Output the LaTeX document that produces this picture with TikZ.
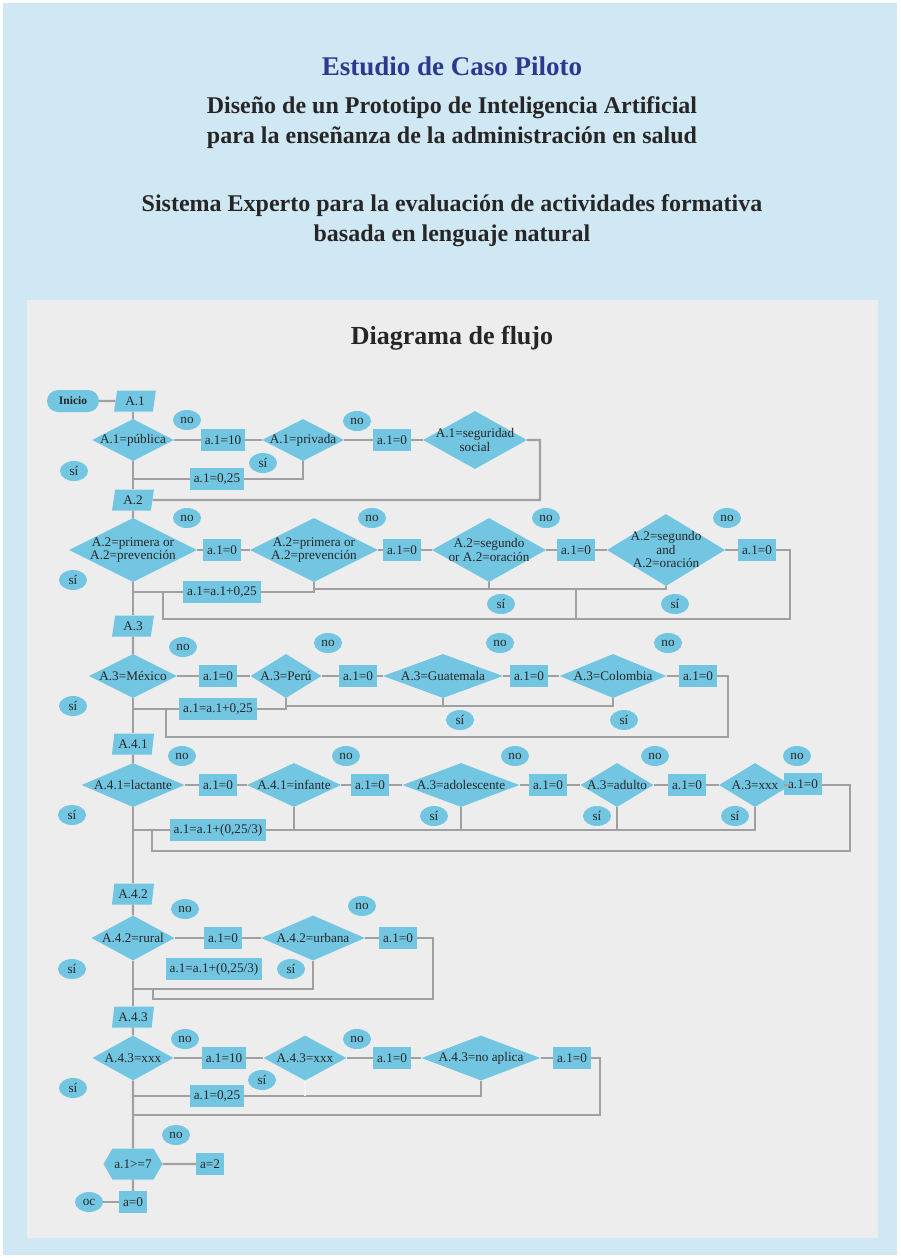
\documentclass[tikz,border=0pt]{standalone}
\usepackage{fontspec}
\setmainfont{Liberation Serif}
\usepackage{xcolor}
\usepackage{tikz}
\usetikzlibrary{shapes.geometric, shapes.symbols}
\definecolor{outerblue}{RGB}{208, 232, 244}
\definecolor{panelgray}{RGB}{237, 237, 237}
\definecolor{nodeblue}{RGB}{114, 198, 226}
\definecolor{linegray}{RGB}{160, 160, 160}
\definecolor{titleblue}{RGB}{44, 58, 142}
\definecolor{textdark}{RGB}{38, 38, 38}

\begin{document}
\begin{tikzpicture}[
    x=1pt, y=-1pt, % pixel grid, y runs downward
    every node/.style={text=textdark, font=\fontsize{13.2}{13.5}\selectfont},
    decision/.style={diamond, fill=nodeblue, inner sep=-30pt, align=center},
    process/.style={rectangle, fill=nodeblue, minimum height=22pt, inner xsep=4pt, inner ysep=0pt},
    answer/.style={ellipse, fill=nodeblue, minimum width=28pt, minimum height=20pt, inner sep=0pt},
    datain/.style={trapezium, trapezium left angle=75, trapezium right angle=105, trapezium stretches=true, fill=nodeblue, minimum width=42pt, minimum height=21pt, inner xsep=4pt, inner ysep=0pt},
    terminal/.style={rectangle, rounded corners=11pt, fill=nodeblue, minimum width=52pt, minimum height=22pt, font=\fontsize{11.5}{13}\selectfont\bfseries},
    check/.style={signal, signal to=west and east, signal pointer angle=120, fill=nodeblue, minimum width=59pt, minimum height=31pt, inner sep=0pt},
    flow/.style={draw=linegray, line width=2.4pt},
    heading/.style={align=center, font=\fontsize{24}{30}\selectfont\bfseries}
]

    % Page and panel
    \useasboundingbox (0,0) rectangle (900,1258);
    \fill [white] (0,0) rectangle (900,1258);
    \fill [outerblue] (3,3) rectangle (897,1255);
    \fill [panelgray] (27,300) rectangle (878,1238);

    % Headings
    \node (case) [font=\fontsize{27}{30}\selectfont\bfseries, text=titleblue] at (452,66) {Estudio de Caso Piloto};
    \node (project) [heading] at (452,123) {Diseño de un Prototipo de Inteligencia Artificial\\para la enseñanza de la administración en salud};
    \node (system) [heading] at (452,221) {Sistema Experto para la evaluación de actividades formativa\\basada en lenguaje natural};
    \node (flowtitle) [font=\fontsize{26}{30}\selectfont\bfseries] at (452,338) {Diagrama de flujo};

    % Row A.1
    \node (start) [terminal] at (73,401) {Inicio};
    \node (inA1) [datain] at (135,401) {A.1};
    \node (d11) [decision, minimum width=82pt, minimum height=42pt] at (133,440) {A.1=pública};
    \node (b11) [process] at (223,440) {a.1=10};
    \node (d12) [decision, minimum width=82pt, minimum height=42pt] at (303,440) {A.1=privada};
    \node (b12) [process] at (392,440) {a.1=0};
    \node (d13) [decision, minimum width=104pt, minimum height=58pt] at (475,440) {A.1=seguridad\\social};
    \node (b13) [process] at (217,479) {a.1=0,25};
    \node (no11) [answer] at (187,420) {no};
    \node (no12) [answer] at (357,421) {no};
    \node (si11) [answer] at (74,471) {sí};
    \node (si12) [answer] at (263,463) {sí};

    % Row A.2
    \node (inA2) [datain] at (133,500) {A.2};
    \node (d21) [decision, minimum width=128pt, minimum height=64pt] at (133,550) {A.2=primera or\\A.2=prevención};
    \node (b21) [process] at (222,550) {a.1=0};
    \node (d22) [decision, minimum width=128pt, minimum height=64pt] at (314,550) {A.2=primera or\\A.2=prevención};
    \node (b22) [process] at (402,550) {a.1=0};
    \node (d23) [decision, minimum width=114pt, minimum height=64pt] at (489,550) {A.2=segundo\\or A.2=oración};
    \node (b23) [process] at (576,550) {a.1=0};
    \node (d24) [decision, minimum width=118pt, minimum height=72pt] at (666,550) {A.2=segundo\\and\\A.2=oración};
    \node (b24) [process] at (757,550) {a.1=0};
    \node (b25) [process] at (222,592) {a.1=a.1+0,25};
    \node (no21) [answer] at (187,518) {no};
    \node (no22) [answer] at (372,518) {no};
    \node (no23) [answer] at (546,518) {no};
    \node (no24) [answer] at (727,518) {no};
    \node (si21) [answer] at (73,580) {sí};
    \node (si23) [answer] at (501,604) {sí};
    \node (si24) [answer] at (675,604) {sí};

    % Row A.3
    \node (inA3) [datain] at (133,626) {A.3};
    \node (d31) [decision, minimum width=88pt, minimum height=44pt] at (133,676) {A.3=México};
    \node (b31) [process] at (218,676) {a.1=0};
    \node (d32) [decision, minimum width=71pt, minimum height=44pt] at (286,676) {A.3=Perú};
    \node (b32) [process] at (358,676) {a.1=0};
    \node (d33) [decision, minimum width=120pt, minimum height=44pt] at (443,676) {A.3=Guatemala};
    \node (b33) [process] at (529,676) {a.1=0};
    \node (d34) [decision, minimum width=107pt, minimum height=44pt] at (613,676) {A.3=Colombia};
    \node (b34) [process] at (698,676) {a.1=0};
    \node (b35) [process] at (218,709) {a.1=a.1+0,25};
    \node (no31) [answer] at (183,647) {no};
    \node (no32) [answer] at (328,643) {no};
    \node (no33) [answer] at (500,643) {no};
    \node (no34) [answer] at (668,643) {no};
    \node (si31) [answer] at (73,706) {sí};
    \node (si33) [answer] at (460,720) {sí};
    \node (si34) [answer] at (624,720) {sí};

    % Row A.4.1
    \node (inA41) [datain] at (133,744) {A.4.1};
    \node (d41) [decision, minimum width=103pt, minimum height=44pt] at (133,785) {A.4.1=lactante};
    \node (b41) [process] at (218,785) {a.1=0};
    \node (d42) [decision, minimum width=94pt, minimum height=44pt] at (294,785) {A.4.1=infante};
    \node (b42) [process] at (370,785) {a.1=0};
    \node (d43) [decision, minimum width=117pt, minimum height=44pt] at (461,785) {A.3=adolescente};
    \node (b43) [process] at (548,785) {a.1=0};
    \node (d44) [decision, minimum width=73pt, minimum height=44pt] at (617,785) {A.3=adulto};
    \node (b44) [process] at (687,785) {a.1=0};
    \node (d45) [decision, minimum width=72pt, minimum height=44pt] at (755,785) {A.3=xxx};
    \node (b45) [process] at (803,784) {a.1=0};
    \node (b46) [process] at (218,830) {a.1=a.1+(0,25/3)};
    \node (no41) [answer] at (182,756) {no};
    \node (no42) [answer] at (346,756) {no};
    \node (no43) [answer] at (515,756) {no};
    \node (no44) [answer] at (655,756) {no};
    \node (no45) [answer] at (797,756) {no};
    \node (si41) [answer] at (72,815) {sí};
    \node (si43) [answer] at (434,816) {sí};
    \node (si44) [answer] at (597,816) {sí};
    \node (si45) [answer] at (735,816) {sí};

    % Row A.4.2
    \node (inA42) [datain] at (133,894) {A.4.2};
    \node (d51) [decision, minimum width=83pt, minimum height=45pt] at (133,938) {A.4.2=rural};
    \node (b51) [process] at (223,938) {a.1=0};
    \node (d52) [decision, minimum width=104pt, minimum height=45pt] at (313,938) {A.4.2=urbana};
    \node (b52) [process] at (398,938) {a.1=0};
    \node (b53) [process] at (214,969) {a.1=a.1+(0,25/3)};
    \node (no51) [answer] at (185,909) {no};
    \node (no52) [answer] at (362,906) {no};
    \node (si51) [answer] at (72,969) {sí};
    \node (si52) [answer] at (291,969) {sí};

    % Row A.4.3
    \node (inA43) [datain] at (133,1017) {A.4.3};
    \node (d61) [decision, minimum width=81pt, minimum height=45pt] at (133,1058) {A.4.3=xxx};
    \node (b61) [process] at (224,1058) {a.1=10};
    \node (d62) [decision, minimum width=83pt, minimum height=45pt] at (305,1058) {A.4.3=xxx};
    \node (b62) [process] at (392,1058) {a.1=0};
    \node (d63) [decision, minimum width=119pt, minimum height=45pt] at (481,1058) {A.4.3=no aplica};
    \node (b63) [process] at (572,1058) {a.1=0};
    \node (b64) [process] at (217,1096) {a.1=0,25};
    \node (no61) [answer] at (185,1039) {no};
    \node (no62) [answer] at (357,1039) {no};
    \node (si61) [answer] at (73,1088) {sí};
    \node (si62) [answer] at (262,1080) {sí};

    % Final check
    \node (limit) [check] at (133,1164) {a.1>=7};
    \node (b71) [process] at (210,1164) {a=2};
    \node (b72) [process] at (133,1202) {a=0};
    \node (no71) [answer] at (176,1135) {no};
    \node (oc) [answer] at (89,1202) {oc};

    % Return points
    \coordinate (r1) at (540,500);
    \coordinate (r2) at (790,619);
    \coordinate (l2) at (163,592);
    \coordinate (m2) at (666,589);
    \coordinate (r3) at (728,737);
    \coordinate (l3) at (166,709);
    \coordinate (m3) at (613,706);
    \coordinate (r4) at (850,851);
    \coordinate (l4) at (152,830);
    \coordinate (r5) at (433,999);
    \coordinate (l5) at (153,989);
    \coordinate (r6) at (600,1115);

    % Draw Connections - A.1
    \draw [flow] (start) -- (inA1);
    \draw [flow] (inA1.south -| d11) -- (d11);
    \draw [flow] (d11) -- (b11) -- (d12) -- (b12) -- (d13);
    \draw [flow] (d13.east) -| (r1) -- (inA2.east);
    \draw [flow] (d11.south |- b13) -- (b13.west);
    \draw [flow] (b13.east) -| (d12.south);
    \draw [flow] (d11) -- (inA2);

    % Draw Connections - A.2
    \draw [flow] (inA2) -- (d21);
    \draw [flow] (d21) -- (b21) -- (d22) -- (b22) -- (d23) -- (b23) -- (d24) -- (b24);
    \draw [flow] (b24.east) -| (r2) -| (l2);
    \draw [flow] (d21.south |- b25) -- (b25.west);
    \draw [flow] (b25.east) -| (d22.south);
    \draw [flow] (d22.south |- m2) -- (m2) -- (d24.south);
    \draw [flow] (d23.south) -- (d23.south |- m2);
    \draw [flow] (b23 |- m2) -- (b23 |- r2);
    \draw [flow] (d21) -- (inA3);

    % Draw Connections - A.3
    \draw [flow] (inA3) -- (d31);
    \draw [flow] (d31) -- (b31) -- (d32) -- (b32) -- (d33) -- (b33) -- (d34) -- (b34);
    \draw [flow] (b34.east) -| (r3) -| (l3);
    \draw [flow] (d31.south |- b35) -- (b35.west);
    \draw [flow] (b35.east) -| (d32.south);
    \draw [flow] (d32.south |- m3) -- (m3) -- (d34.south);
    \draw [flow] (d33.south) -- (d33.south |- m3);
    \draw [flow] (d31) -- (inA41);

    % Draw Connections - A.4.1
    \draw [flow] (inA41) -- (d41);
    \draw [flow] (d41) -- (b41) -- (d42) -- (b42) -- (d43) -- (b43) -- (d44) -- (b44) -- (d45) -- (d45.east -| b45.west);
    \draw [flow] (b45.east |- d45) -| (r4) -| (l4);
    \draw [flow] (d41.south |- b46) -- (b46.west);
    \draw [flow] (b46.east) -| (d45.south);
    \draw [flow] (d42.south) -- (d42.south |- b46);
    \draw [flow] (d43.south) -- (d43.south |- b46);
    \draw [flow] (d44.south) -- (d44.south |- b46);
    \draw [flow] (d41) -- (inA42);

    % Draw Connections - A.4.2
    \draw [flow] (inA42) -- (d51);
    \draw [flow] (d51) -- (b51) -- (d52) -- (b52);
    \draw [flow] (b52.east) -| (r5) -| (l5);
    \draw [flow] (d52.south) |- (d51.south |- l5);
    \draw [flow] (d51) -- (inA43);

    % Draw Connections - A.4.3
    \draw [flow] (inA43) -- (d61);
    \draw [flow] (d61) -- (b61) -- (d62) -- (b62) -- (d63) -- (b63);
    \draw [flow] (b63.east) -| (r6) -- (d61.south |- r6);
    \draw [flow] (d61.south |- b64) -- (b64.west);
    \draw [flow] (b64.east) -| (d63.south);
    \draw [flow, draw=nodeblue!12] (d62.south) -- (d62.south |- b64);
    \draw [flow] (d61) -- (limit);

    % Draw Connections - final
    \draw [flow] (limit) -- (b71);
    \draw [flow] (limit) -- (b72);
    \draw [flow] (oc) -- (b72);

\end{tikzpicture}
\end{document}
